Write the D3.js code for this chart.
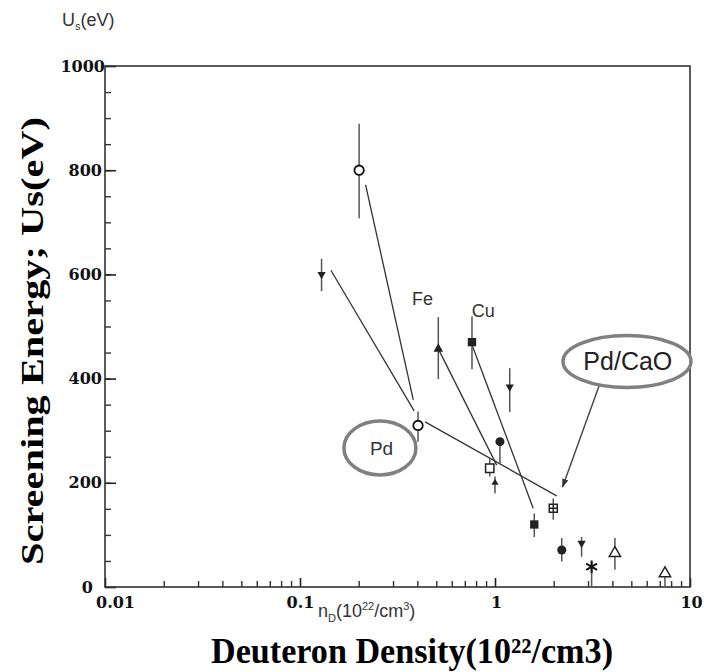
<!DOCTYPE html>
<html>
<head>
<meta charset="utf-8">
<script src="https://cdn.jsdelivr.net/npm/d3@7"></script>
<style>
  body { margin: 0; background: #fff; }
  svg { display: block; }
</style>
</head>
<body>
<div id="chart"></div>
<script>
// data points (density in 10^22/cm3, screening energy in eV)
const density = [0.201, 0.129, 0.403, 0.512, 0.762, 1.19, 1.06, 0.94, 1.0, 1.59, 1.99, 2.20, 2.78, 3.13, 4.12, 7.44];
const energy  = [800, 600, 310, 457, 470, 384, 279, 228, 200, 120, 151, 71, 84, 39, 65, 26];
const errHi   = [89, 30, 27, 61, 49, 36, 0, 20, 12, 21, 19, 23, 12, 10, 29, 13];
const errLo   = [92, 32, 31, 58, 52, 48, 42, 16, 20, 24, 22, 22, 26, 39, 32, 26];
const markerType = ["circleOpen", "triDown", "circleOpen", "tri", "square", "triDown", "circle", "squareOpen",
                    "arrowUp", "square", "squareCross", "circle", "triDown", "asterisk", "triOpen", "triOpen"];

// straight fit lines drawn between points
const fitX1 = [0.217, 0.144, 0.438, 0.512, 0.762];
const fitU1 = [772, 608, 317, 457, 465];
const fitX2 = [0.381, 0.385, 2.07, 1.02, 1.57];
const fitU2 = [359, 338, 175, 234, 151];

const xTickMajor = [0.01, 0.1, 1, 10];
const xTickLabels = ["0.01", "0.1", "1", "10"];
const yTickMajor = [0, 200, 400, 600, 800, 1000];

const width = 704, height = 672;

const svg = d3.select("#chart").append("svg")
    .attr("width", width)
    .attr("height", height);

const x = d3.scaleLog().domain([0.01, 10]).range([105, 690]);
const y = d3.scaleLinear().domain([0, 1000]).range([587, 66]);

const tickFont = "'DejaVu Serif', serif";

// minor ticks
const xMinor = [];
[0.01, 0.1, 1].forEach(d => { for (let k = 2; k <= 9; k++) xMinor.push(d * k); });

svg.append("g")
    .attr("transform", `translate(0,${y(0)})`)
    .call(d3.axisBottom(x).tickValues(xMinor).tickSizeInner(-6).tickSizeOuter(0).tickFormat(""))
    .call(g => g.select(".domain").remove())
    .call(g => g.selectAll("line").attr("stroke", "#333").attr("stroke-width", 1.4));

const xAxis = svg.append("g")
    .attr("transform", `translate(0,${y(0)})`)
    .call(d3.axisBottom(x).tickValues(xTickMajor).tickSizeInner(-9).tickSizeOuter(0).tickPadding(10)
        .tickFormat((d, i) => xTickLabels[i]));
xAxis.select(".domain").remove();
xAxis.selectAll("line").attr("stroke", "#222").attr("stroke-width", 1.6);
xAxis.selectAll("text")
    .attr("font-family", tickFont).attr("font-weight", "bold").attr("font-size", 16).attr("fill", "#111")
    .attr("dx", (d, i) => i === 0 ? 10 : (i === 1 ? 0 : 1));

svg.append("g")
    .attr("transform", `translate(${x(0.01)},0)`)
    .call(d3.axisLeft(y).tickValues(d3.range(50, 1000, 50)).tickSizeInner(-6).tickSizeOuter(0).tickFormat(""))
    .call(g => g.select(".domain").remove())
    .call(g => g.selectAll("line").attr("stroke", "#333").attr("stroke-width", 1.4));

const yAxis = svg.append("g")
    .attr("transform", `translate(${x(0.01)},0)`)
    .call(d3.axisLeft(y).tickValues(yTickMajor).tickSizeInner(-11).tickSizeOuter(0).tickPadding(3).tickFormat(d3.format("d")));
yAxis.select(".domain").remove();
yAxis.selectAll("line").attr("stroke", "#222").attr("stroke-width", 1.6);
yAxis.selectAll("text")
    .attr("font-family", tickFont).attr("font-weight", "bold").attr("font-size", 16).attr("fill", "#111")
    .attr("dx", d => d === 0 ? -9 : (d === 1000 ? 3 : 0));

// frame
svg.append("rect")
    .attr("x", x(0.01)).attr("y", y(1000))
    .attr("width", x(10) - x(0.01)).attr("height", y(0) - y(1000))
    .attr("fill", "none").attr("stroke", "#333").attr("stroke-width", 1.6);

// fit lines
svg.append("g").selectAll("line")
    .data(fitX1)
    .join("line")
    .attr("x1", (d, i) => x(fitX1[i])).attr("y1", (d, i) => y(fitU1[i]))
    .attr("x2", (d, i) => x(fitX2[i])).attr("y2", (d, i) => y(fitU2[i]))
    .attr("stroke", "#333").attr("stroke-width", 1.3);

// error bars
svg.append("g").selectAll("line")
    .data(density)
    .join("line")
    .attr("x1", d => x(d)).attr("x2", d => x(d))
    .attr("y1", (d, i) => y(energy[i] + errHi[i]))
    .attr("y2", (d, i) => y(energy[i] - errLo[i]))
    .attr("stroke", "#555").attr("stroke-width", 1.5);

// markers
const pts = svg.append("g").selectAll("g")
    .data(density)
    .join("g")
    .attr("transform", (d, i) => `translate(${x(d)},${y(energy[i])})`);

pts.each(function (d, i) {
    const g = d3.select(this);
    const t = markerType[i];
    if (t === "circleOpen") {
        g.append("path").attr("d", d3.symbol(d3.symbolCircle, 70)())
            .attr("fill", "#fff").attr("stroke", "#111").attr("stroke-width", 1.8);
    } else if (t === "circle") {
        g.append("path").attr("d", d3.symbol(d3.symbolCircle, 64)()).attr("fill", "#222");
    } else if (t === "square") {
        g.append("path").attr("d", d3.symbol(d3.symbolSquare, 70)()).attr("fill", "#222");
    } else if (t === "squareOpen") {
        g.append("path").attr("d", d3.symbol(d3.symbolSquare, 70)())
            .attr("fill", "#fff").attr("stroke", "#222").attr("stroke-width", 1.5);
    } else if (t === "squareCross") {
        g.append("path").attr("d", d3.symbol(d3.symbolSquare, 64)())
            .attr("fill", "#fff").attr("stroke", "#222").attr("stroke-width", 1.5);
        g.append("path").attr("d", "M-4,0H4M0,-4V4").attr("stroke", "#222").attr("stroke-width", 1.5);
    } else if (t === "tri") {
        g.append("path").attr("d", d3.symbol(d3.symbolTriangle, 40)()).attr("fill", "#222");
    } else if (t === "triDown") {
        g.append("path").attr("d", d3.symbol(d3.symbolTriangle, 30)())
            .attr("transform", "rotate(180)").attr("fill", "#222");
    } else if (t === "triOpen") {
        g.append("path").attr("d", d3.symbol(d3.symbolTriangle, 55)())
            .attr("fill", "#fff").attr("stroke", "#222").attr("stroke-width", 1.5);
    } else if (t === "arrowUp") {
        g.append("path").attr("d", d3.symbol(d3.symbolTriangle, 22)()).attr("fill", "#222");
    } else if (t === "asterisk") {
        g.append("path").attr("d", d3.symbol(d3.symbolAsterisk, 110)())
            .attr("fill", "none").attr("stroke", "#111").attr("stroke-width", 2);
    }
});

// annotations
const sans = "'Liberation Sans', Arial, sans-serif";

svg.append("text").attr("x", x(0.375)).attr("y", y(541))
    .attr("font-family", sans).attr("font-size", 18).attr("fill", "#333").text("Fe");
svg.append("text").attr("x", x(0.76)).attr("y", y(518))
    .attr("font-family", sans).attr("font-size", 18).attr("fill", "#333").text("Cu");

// Pd ellipse
svg.append("ellipse")
    .attr("cx", x(0.257)).attr("cy", y(267)).attr("rx", 36).attr("ry", 27)
    .attr("fill", "none").attr("stroke", "#808080").attr("stroke-width", 3.5);
svg.append("text").attr("x", x(0.262)).attr("y", y(267)).attr("dy", "0.36em")
    .attr("text-anchor", "middle").attr("font-family", sans).attr("font-size", 19).attr("fill", "#333").text("Pd");

// Pd/CaO ellipse and arrow
svg.append("defs").append("marker")
    .attr("id", "ah").attr("viewBox", "0 0 10 10").attr("refX", 9).attr("refY", 5)
    .attr("markerWidth", 9).attr("markerHeight", 9).attr("orient", "auto").attr("markerUnits", "userSpaceOnUse")
    .append("path").attr("d", "M0,1.5 L10,5 L0,8.5 Z").attr("fill", "#333");

svg.append("line")
    .attr("x1", x(3.5)).attr("y1", y(397)).attr("x2", x(2.22)).attr("y2", y(192))
    .attr("stroke", "#444").attr("stroke-width", 1.4).attr("marker-end", "url(#ah)");

svg.append("ellipse")
    .attr("cx", x(4.75)).attr("cy", y(433)).attr("rx", 64).attr("ry", 26)
    .attr("fill", "#fff").attr("stroke", "#808080").attr("stroke-width", 3.5);
svg.append("text").attr("x", x(4.8)).attr("y", y(433)).attr("dy", "0.36em")
    .attr("text-anchor", "middle").attr("font-family", sans).attr("font-size", 25).attr("fill", "#222").text("Pd/CaO");

// small axis captions from the original figure
const us = svg.append("text").attr("x", 62).attr("y", 26)
    .attr("font-family", sans).attr("font-size", 18).attr("fill", "#333");
us.append("tspan").text("U");
us.append("tspan").attr("font-size", 11).attr("dy", 4).text("s");
us.append("tspan").attr("dy", -4).text("(eV)");

const nd = svg.append("text").attr("x", 318).attr("y", 617)
    .attr("font-family", sans).attr("font-size", 18).attr("fill", "#333");
nd.append("tspan").text("n");
nd.append("tspan").attr("font-size", 11).attr("dy", 5).text("D");
nd.append("tspan").attr("dy", -5).text("(10");
nd.append("tspan").attr("font-size", 11).attr("dy", -7).text("22");
nd.append("tspan").attr("dy", 7).text("/cm");
nd.append("tspan").attr("font-size", 11).attr("dy", -7).text("3");
nd.append("tspan").attr("dy", 7).text(")");

// axis titles
const serif = "'Liberation Serif', 'Times New Roman', serif";
svg.append("text")
    .attr("transform", "translate(43,341) rotate(-90)")
    .attr("text-anchor", "middle")
    .attr("font-family", serif).attr("font-weight", "bold").attr("font-size", 31)
    .attr("textLength", 448).attr("lengthAdjust", "spacingAndGlyphs")
    .attr("fill", "#000")
    .text("Screening Energy; Us(eV)");

svg.append("text")
    .attr("x", 412).attr("y", 663)
    .attr("text-anchor", "middle")
    .attr("font-family", serif).attr("font-weight", "bold").attr("font-size", 36)
    .attr("textLength", 402).attr("lengthAdjust", "spacingAndGlyphs")
    .attr("fill", "#000")
    .text("Deuteron Density(10²²/cm3)");
</script>
</body>
</html>
